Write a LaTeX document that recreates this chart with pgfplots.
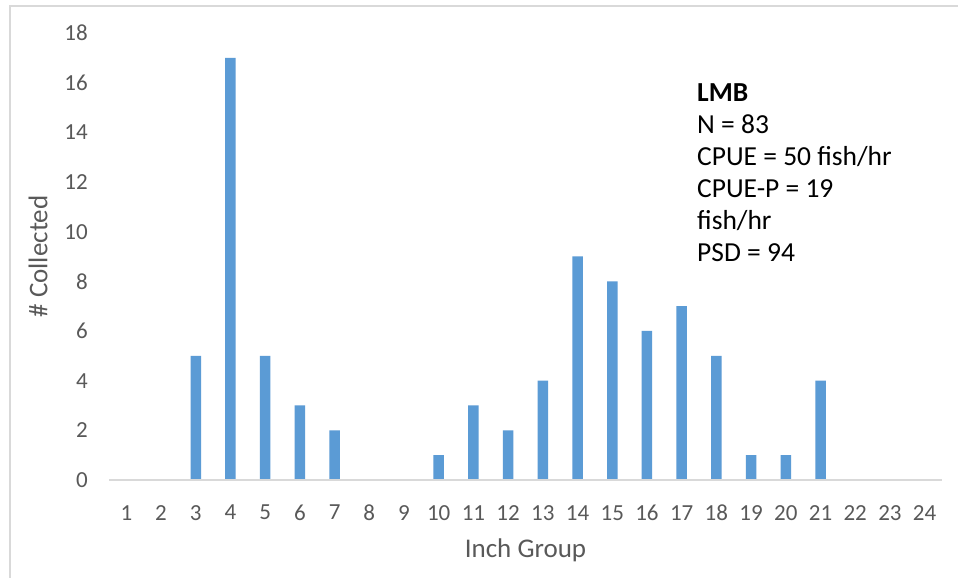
\documentclass[border=0pt]{standalone}
\usepackage{fontspec}
\setmainfont{Carlito}
\usepackage{pgfplots}
\pgfplotsset{compat=1.18}
\definecolor{barblue}{HTML}{5B9BD5}
\definecolor{ticktxt}{HTML}{595959}
\definecolor{axline}{HTML}{D9D9D9}
\definecolor{frame}{HTML}{D9D9D9}
\begin{document}
\begin{tikzpicture}[x=1pt,y=1pt]
\path[use as bounding box] (0,0) rectangle (958,578);
\fill[white] (0,0) rectangle (958,578);
\draw[frame, line width=2.5pt] (10,0) -- (10,572) -- (958,572);
\begin{axis}[
  at={(109pt,98pt)}, anchor=south west,
  scale only axis, width=833pt, height=447pt,
  xmin=0.5, xmax=24.5, ymin=0, ymax=18,
  xtick={1,...,24}, ytick={0,2,...,18},
  axis line style={draw=none},
  major tick length=0pt,
  /pgf/number format/assume math mode=true,
  ticklabel style={font=\fontsize{23}{27}\selectfont, text=ticktxt, inner sep=0pt},
  yticklabel style={anchor=east, xshift=-21pt},
  xticklabel style={anchor=north, yshift=-25pt},
  xlabel={Inch Group}, ylabel={\# Collected},
  label style={font=\fontsize{27}{32}\selectfont, text=ticktxt, inner sep=0pt},
  xlabel style={at={(rel axis cs:0.5,0)}, anchor=center, yshift=-70pt},
  ylabel style={at={(rel axis cs:0,0.5)}, anchor=center, yshift=71pt},
  clip=false,
]
\addplot[ybar, bar width=10.5pt, fill=barblue, draw=none, bar shift=0pt] coordinates {
(1,0) (2,0) (3,5) (4,17) (5,5) (6,3) (7,2) (8,0) (9,0) (10,1) (11,3) (12,2)
(13,4) (14,9) (15,8) (16,6) (17,7) (18,5) (19,1) (20,1) (21,4) (22,0) (23,0) (24,0)
};
\draw[axline, line width=1.5pt] (axis cs:0.5,0) -- (axis cs:24.5,0);
\end{axis}
\begin{scope}[every node/.style={anchor=base west, inner sep=0pt, font=\fontsize{27.5}{32}\selectfont, text=black}]
\node at (697,476) {\bfseries LMB};
\node at (697,444.8) {N = 83};
\node at (697,412.6) {CPUE = 50 fish/hr};
\node at (697,380.4) {CPUE-P = 19};
\node at (697,348.2) {fish/hr};
\node at (697,316) {PSD = 94};
\end{scope}
\end{tikzpicture}
\end{document}
